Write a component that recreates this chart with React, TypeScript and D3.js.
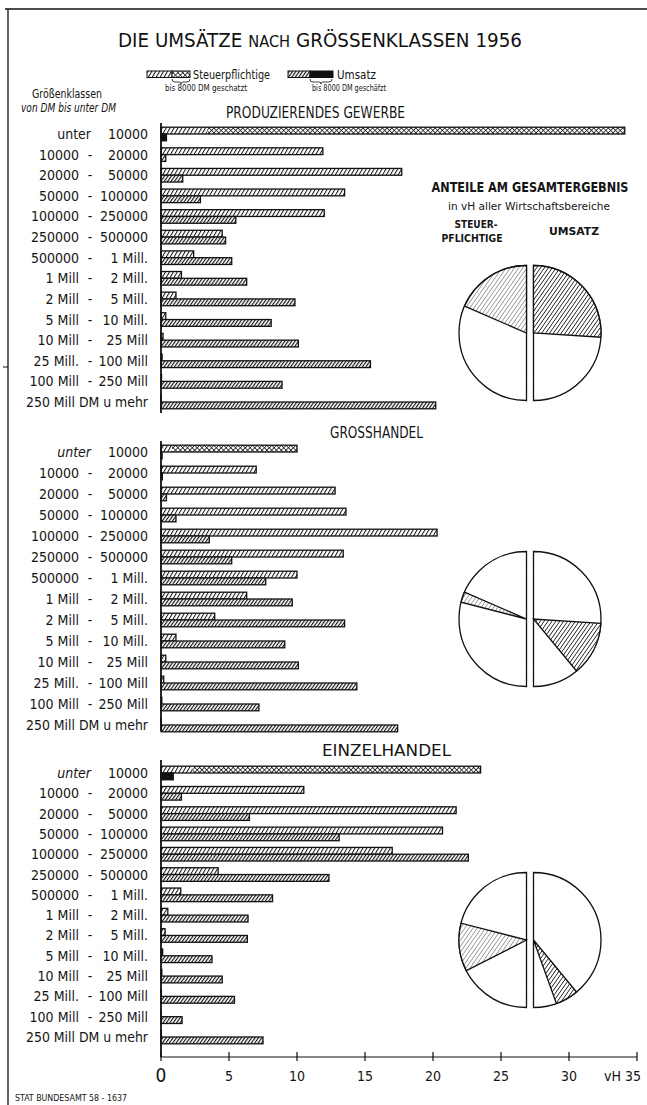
import React from 'react'
import * as d3 from 'd3'

// Größenklassen (von / bis unter)
const klasseVon = ['unter', '10000', '20000', '50000', '100000', '250000', '500000', '1 Mill', '2 Mill', '5 Mill', '10 Mill', '25 Mill.', '100 Mill', '250 Mill DM u mehr']
const klasseBis = ['10000', '20000', '50000', '100000', '250000', '500000', '1 Mill.', '2 Mill.', '5 Mill.', '10 Mill.', '25 Mill', '100 Mill', '250 Mill', '']

const bereiche = ['PRODUZIERENDES GEWERBE', 'GROSSHANDEL', 'EINZELHANDEL']

// vH der Steuerpflichtigen / des Umsatzes je Größenklasse
const steuerProd = [34.1, 11.9, 17.7, 13.5, 12.0, 4.5, 2.4, 1.5, 1.1, 0.35, 0.15, 0.08, 0.04, 0.02]
const umsatzProd = [0.4, 0.35, 1.6, 2.9, 5.5, 4.75, 5.2, 6.3, 9.85, 8.1, 10.1, 15.4, 8.9, 20.2]
const steuerGross = [10.0, 7.0, 12.8, 13.6, 20.3, 13.4, 10.0, 6.3, 3.95, 1.1, 0.35, 0.2, 0.06, 0.02]
const umsatzGross = [0.08, 0.1, 0.4, 1.1, 3.55, 5.2, 7.7, 9.65, 13.5, 9.1, 10.1, 14.4, 7.2, 17.4]
const steuerEinzel = [23.5, 10.5, 21.7, 20.7, 17.0, 4.2, 1.45, 0.5, 0.3, 0.12, 0.06, 0.03, 0.01, 0.01]
const umsatzEinzel = [0.9, 1.5, 6.5, 13.1, 22.6, 12.35, 8.2, 6.4, 6.35, 3.75, 4.5, 5.4, 1.55, 7.5]

// ab hier geschätzt (bis 8000 DM), nur erste Klasse
const geschaetztAb = [3.4, 0.8, 2.3]

// Anteile am Gesamtergebnis in vH aller Wirtschaftsbereiche
const anteilSteuer = [37, 5, 23]
const anteilUmsatz = [52, 26, 11]

const xTicks = [0, 5, 10, 15, 20, 25, 30, 35]

const W = 647
const H = 1105
const font = "'DejaVu Sans Condensed', 'DejaVu Sans', sans-serif"

const x = d3.scaleLinear().domain([0, 35]).range([161, 637])

const panels = [
  { steuer: steuerProd, umsatz: umsatzProd, rows: [134, 402], axis: [123, 413], titleX: 226, titleY: 118, titleW: 179, pieY: 333 },
  { steuer: steuerGross, umsatz: umsatzGross, rows: [452, 725], axis: [441, 731], titleX: 330, titleY: 438, titleW: 93, pieY: 619 },
  { steuer: steuerEinzel, umsatz: umsatzEinzel, rows: [773, 1037], axis: [760, 1057], titleX: 322, titleY: 756, titleW: 129, pieY: 940 },
]

const barH = 6.8
const pieR = 67.5
const arc = d3.arc<any>().innerRadius(0).outerRadius(pieR)

const T = ({ x, y, w, size, anchor = 'start', weight = 'normal', style = 'normal', children }: any) => (
  <text
    x={x}
    y={y}
    fontSize={size}
    fontWeight={weight}
    fontStyle={style}
    textAnchor={anchor}
    textLength={w}
    lengthAdjust={w ? 'spacingAndGlyphs' : undefined}
    fill="#151515"
  >
    {children}
  </text>
)

const Panel = ({ p, i }: any) => {
  const y = d3.scalePoint<number>().domain(d3.range(klasseVon.length)).range(p.rows)
  const rest = (a: number[]) => 100 - d3.sum(a)
  const leftPie = d3.pie<number>().sort(null).value((d) => d).startAngle(0).endAngle(-Math.PI)
  const rightPie = d3.pie<number>().sort(null).value((d) => d).startAngle(0).endAngle(Math.PI)
  const lArcs = leftPie([...anteilSteuer, rest(anteilSteuer)])
  const rArcs = rightPie([...anteilUmsatz, rest(anteilUmsatz)])
  const lx = 526.5
  const rx = 533.5
  const fs = 14

  return (
    <g>
      <T x={p.titleX} y={p.titleY} w={p.titleW} size={15.5} weight={500}>{bereiche[i]}</T>

      {/* labels */}
      {klasseVon.map((von, k) => {
        const cy = y(k)! + 5
        if (k === klasseVon.length - 1)
          return <T key={k} x={148} y={cy} w={122} size={fs} anchor="end">{von}</T>
        return (
          <g key={k}>
            <T x={k === 0 ? 91 : 79} y={cy} size={fs} anchor="end" style={k === 0 && i > 0 ? 'italic' : 'normal'}>{von}</T>
            {k > 0 && <T x={90} y={cy} size={fs} anchor="middle">-</T>}
            <T x={148} y={cy} size={fs} anchor="end">{klasseBis[k]}</T>
          </g>
        )
      })}

      {/* bars */}
      {p.steuer.map((v: number, k: number) => {
        const cy = y(k)!
        const u = p.umsatz[k]
        return (
          <g key={k} stroke="#111" strokeWidth={1.3}>
            {k === 0 ? (
              <g>
                <rect x={x(0)} y={cy - barH} width={x(geschaetztAb[i]) - x(0)} height={barH} fill="url(#steuer)" stroke="none" />
                <rect x={x(geschaetztAb[i])} y={cy - barH} width={x(v) - x(geschaetztAb[i])} height={barH} fill="url(#kreuz)" stroke="none" />
                <rect x={x(0)} y={cy - barH} width={x(v) - x(0)} height={barH} fill="none" />
                <rect x={x(0)} y={cy} width={Math.max(x(u) - x(0), 1)} height={barH} fill="#111" />
              </g>
            ) : (
              <g>
                <rect x={x(0)} y={cy - barH} width={x(v) - x(0)} height={barH} fill="url(#steuer)" />
                <rect x={x(0)} y={cy} width={x(u) - x(0)} height={barH} fill="url(#umsatz)" />
              </g>
            )}
          </g>
        )
      })}

      <line x1={x(0)} x2={x(0)} y1={p.axis[0]} y2={p.axis[1]} stroke="#111" strokeWidth={1.8} />

      {/* pies */}
      <g transform={`translate(${lx},${p.pieY})`} stroke="#111" strokeWidth={1.3}>
        <path d={arc({ startAngle: 0, endAngle: -Math.PI })!} fill="#fff" />
        <path d={arc(lArcs[i])!} fill="url(#pieLight)" />
      </g>
      <g transform={`translate(${rx},${p.pieY})`} stroke="#111" strokeWidth={1.3}>
        <path d={arc({ startAngle: 0, endAngle: Math.PI })!} fill="#fff" />
        <path d={arc(rArcs[i])!} fill="url(#pieDark)" />
      </g>
    </g>
  )
}

const App = () => {
  const axisY = 1057
  return (
    <svg width={W} height={H} style={{ position: 'absolute', left: 0, top: 0, background: '#fff' }} fontFamily={font}>
      <defs>
        <pattern id="steuer" patternUnits="userSpaceOnUse" width={3.4} height={3.4} patternTransform="rotate(30)">
          <rect width={3.4} height={3.4} fill="#fff" />
          <line x1={0} y1={0} x2={0} y2={3.4} stroke="#111" strokeWidth={2.0} />
        </pattern>
        <pattern id="umsatz" patternUnits="userSpaceOnUse" width={2.8} height={2.8} patternTransform="rotate(35)">
          <rect width={2.8} height={2.8} fill="#fff" />
          <line x1={0} y1={0} x2={0} y2={2.8} stroke="#111" strokeWidth={2.3} />
        </pattern>
        <pattern id="kreuz" patternUnits="userSpaceOnUse" width={3.4} height={3.4} patternTransform="rotate(45)">
          <rect width={3.4} height={3.4} fill="#fff" />
          <line x1={0} y1={0} x2={0} y2={3.4} stroke="#111" strokeWidth={1.5} />
          <line x1={0} y1={0} x2={3.4} y2={0} stroke="#111" strokeWidth={1.5} />
        </pattern>
        <pattern id="pieLight" patternUnits="userSpaceOnUse" width={3.4} height={3.4} patternTransform="rotate(35)">
          <rect width={3.4} height={3.4} fill="#fff" />
          <line x1={0} y1={0} x2={0} y2={3.4} stroke="#222" strokeWidth={0.8} />
        </pattern>
        <pattern id="pieDark" patternUnits="userSpaceOnUse" width={3.2} height={3.2} patternTransform="rotate(35)">
          <rect width={3.2} height={3.2} fill="#fff" />
          <line x1={0} y1={0} x2={0} y2={3.2} stroke="#111" strokeWidth={1.5} />
        </pattern>
      </defs>

      {/* frame */}
      <line x1={8} x2={8} y1={9} y2={H} stroke="#111" strokeWidth={1.3} />
      <line x1={5} x2={W} y1={9} y2={9} stroke="#111" strokeWidth={1.3} />
      <line x1={3} x2={8} y1={367} y2={367} stroke="#111" strokeWidth={1} />

      {/* title */}
      <text x={118} y={47} fontSize={20} textLength={404} lengthAdjust="spacingAndGlyphs" fill="#111" fontWeight={500}>
        DIE UMSÄTZE <tspan fontSize={16}>NACH</tspan> GRÖSSENKLASSEN 1956
      </text>

      {/* legend */}
      <g stroke="#111" strokeWidth={1}>
        <rect x={147} y={71} width={25} height={6.5} fill="url(#steuer)" />
        <rect x={172} y={71} width={18} height={6.5} fill="url(#kreuz)" />
        <rect x={288} y={71} width={22} height={6.5} fill="url(#umsatz)" />
        <rect x={310} y={71} width={23} height={6.5} fill="#111" />
        <path d="M172,79 q0,3 3,3 h4 q2,0 2,2 q0,-2 2,-2 h4 q3,0 3,-3" fill="none" strokeWidth={0.8} />
        <path d="M310,79 q0,3 3,3 h6 q2,0 2,2 q0,-2 2,-2 h6 q3,0 3,-3" fill="none" strokeWidth={0.8} />
      </g>
      <T x={193} y={79} w={77} size={13}>Steuerpflichtige</T>
      <T x={165} y={91} w={82} size={9.5}>bis 8000 DM geschatzt</T>
      <T x={337} y={79} w={39} size={13}>Umsatz</T>
      <T x={312} y={91} w={74} size={9}>bis 8000 DM geschäfzt</T>

      <T x={32} y={98} w={70} size={13}>Größenklassen</T>
      <T x={21} y={112} w={95} size={11.5} style="italic">von   DM bis unter   DM</T>

      {/* pie header */}
      <T x={530} y={192} w={197} size={13.5} anchor="middle" weight="bold">ANTEILE AM GESAMTERGEBNIS</T>
      <T x={529} y={210} w={162} size={11} anchor="middle">in vH aller Wirtschaftsbereiche</T>
      <T x={476} y={228} w={43} size={11} anchor="middle" weight="bold">STEUER-</T>
      <T x={472} y={242} w={61} size={11} anchor="middle" weight="bold">PFLICHTIGE</T>
      <T x={574} y={235} w={50} size={11} anchor="middle" weight="bold">UMSATZ</T>

      {panels.map((p, i) => (
        <Panel key={i} p={p} i={i} />
      ))}

      {/* x axis */}
      <line x1={x(0)} x2={x(35)} y1={axisY} y2={axisY} stroke="#111" strokeWidth={1.2} />
      {xTicks.map((t) => (
        <g key={t}>
          <line x1={x(t)} x2={x(t)} y1={axisY - 5} y2={axisY + 4} stroke="#111" strokeWidth={1.2} />
          {t === 0 ? (
            <T x={x(t)} y={1082} size={19} anchor="middle">0</T>
          ) : t === 35 ? (
            <T x={641} y={1081} size={14} anchor="end">vH 35</T>
          ) : (
            <T x={x(t)} y={1081} size={14} anchor="middle">{t}</T>
          )}
        </g>
      ))}

      <T x={15} y={1101} w={112} size={8}>STAT BUNDESAMT  58 - 1637</T>
    </svg>
  )
}

export default App
